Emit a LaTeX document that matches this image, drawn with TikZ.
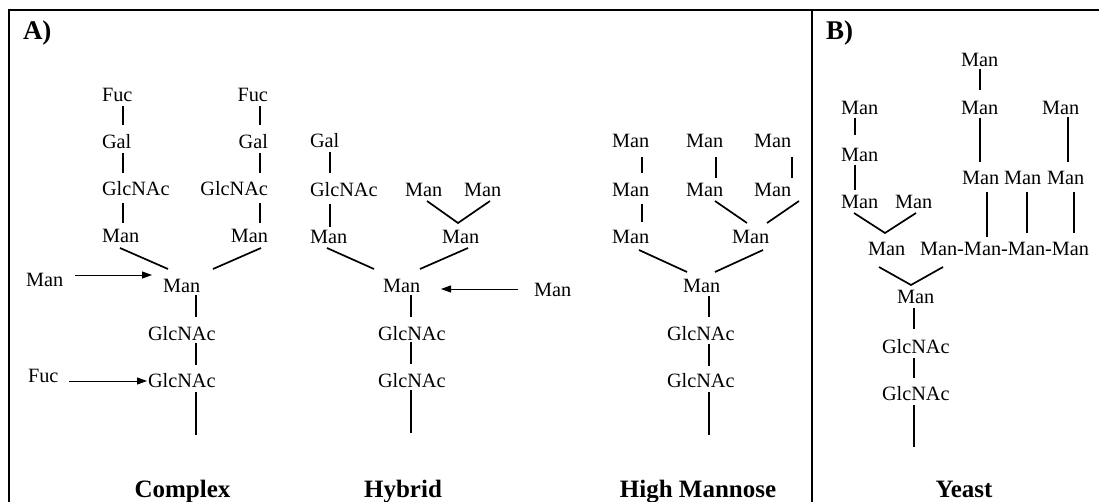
\documentclass[tikz,border=0pt]{standalone}
\usepackage{fontspec}
\setmainfont{Liberation Serif}
\usetikzlibrary{arrows.meta}
\begin{document}
\begin{tikzpicture}[x=1pt,y=-1pt,
  sug/.style={inner sep=0pt,outer sep=0pt,font=\fontsize{20.3}{24}\selectfont,anchor=base west},
  sugr/.style={sug,anchor=base east},
  ttl/.style={inner sep=0pt,outer sep=0pt,font=\fontsize{25}{30}\selectfont\bfseries,anchor=base},
  lbl/.style={inner sep=0pt,outer sep=0pt,font=\fontsize{27}{30}\selectfont\bfseries,anchor=base west},
  bond/.style={line width=1.7pt},
  addn/.style={line width=0.9pt,-{Triangle[length=10pt,width=7pt]}},
  frame/.style={line width=2.8pt,line join=miter},
  sep/.style={line width=1.2pt}]
\useasboundingbox (0,0) rectangle (1099,502);
% frame
\draw[frame] (9,502) -- (9,10) -- (1099,10);
\draw[sep] (812,10) -- (812,502);
\node[lbl] (labA) at (23,40) {A)};
\node[lbl] (labB) at (826,40) {B)};

% ---------------- Complex ----------------
\node[sug]  (cf1) at (102,102) {Fuc};
\node[sugr] (cf2) at (268,102) {Fuc};
\node[sug]  (cg1) at (102,149) {Gal};
\node[sugr] (cg2) at (268,149) {Gal};
\node[sug]  (cn1) at (102,196) {GlcNAc};
\node[sugr] (cn2) at (268,196) {GlcNAc};
\node[sug]  (cm1) at (102,243) {Man};
\node[sugr] (cm2) at (268,243) {Man};
\node[sug]  (cm)  at (163,292) {Man};
\node[sug]  (cgn1) at (148,340) {GlcNAc};
\node[sug]  (cgn2) at (148,387) {GlcNAc};
\node[sug]  (cman) at (26,287) {Man};
\node[sug]  (cfuc) at (28,382) {Fuc};
\node[ttl]  (tC) at (182.5,497) {Complex};
\draw[bond] ([shift={(21,4)}]cf1.base west) -- ([shift={(21,-24)}]cg1.base west);
\draw[bond] ([shift={(21,4)}]cg1.base west) -- ([shift={(21,-23)}]cn1.base west);
\draw[bond] ([shift={(21,7)}]cn1.base west) -- ([shift={(21,-20)}]cm1.base west);
\draw[bond] ([shift={(-8,4)}]cf2.base east) -- ([shift={(-8,-24)}]cg2.base east);
\draw[bond] ([shift={(-8,4)}]cg2.base east) -- ([shift={(-8,-23)}]cn2.base east);
\draw[bond] ([shift={(-8,7)}]cn2.base east) -- ([shift={(-8,-20)}]cm2.base east);
\draw[bond] ([shift={(18,5)}]cm1.base west) -- ([shift={(5,-23)}]cm.base west);
\draw[bond] ([shift={(-7,5)}]cm2.base east) -- ([shift={(50,-23)}]cm.base west);
\draw[bond] ([shift={(33,3)}]cm.base west) -- ([shift={(48,-23)}]cgn1.base west);
\draw[bond] ([shift={(48,3)}]cgn1.base west) -- ([shift={(48,-22)}]cgn2.base west);
\draw[bond] ([shift={(48,5)}]cgn2.base west) -- ([shift={(48,48)}]cgn2.base west);
\draw[addn] ([shift={(49,-12)}]cman.base west) -- ([shift={(-11,-17)}]cm.base west);
\draw[addn] ([shift={(41,-1)}]cfuc.base west) -- ([shift={(-1,-6)}]cgn2.base west);

% ---------------- Hybrid ----------------
\node[sug] (hg)   at (310,148) {Gal};
\node[sug] (hn)   at (310,197) {GlcNAc};
\node[sug] (hm1)  at (310,244) {Man};
\node[sug] (hmt1) at (405,197) {Man};
\node[sug] (hmt2) at (464,197) {Man};
\node[sug] (hm2)  at (442,244) {Man};
\node[sug] (hm)   at (383,292) {Man};
\node[sug] (hgn1) at (378,340) {GlcNAc};
\node[sug] (hgn2) at (378,387) {GlcNAc};
\node[sug] (hl)   at (534,297) {Man};
\node[ttl] (tH) at (403,497) {Hybrid};
\draw[bond] ([shift={(20,4)}]hg.base west) -- ([shift={(20,-24)}]hn.base west);
\draw[bond] ([shift={(20,7)}]hn.base west) -- ([shift={(20,-17)}]hm1.base west);
\draw[bond] ([shift={(22,4)}]hmt1.base west) -- ([shift={(16,-21)}]hm2.base west) -- ([shift={(26,4)}]hmt2.base west);
\draw[bond] ([shift={(17,4)}]hm1.base west) -- ([shift={(-9,-23)}]hm.base west);
\draw[bond] ([shift={(26,4)}]hm2.base west) -- ([shift={(37,-23)}]hm.base west);
\draw[bond] ([shift={(28,3)}]hm.base west) -- ([shift={(33,-23)}]hgn1.base west);
\draw[bond] ([shift={(33,2)}]hgn1.base west) -- ([shift={(33,-23)}]hgn2.base west);
\draw[bond] ([shift={(33,3)}]hgn2.base west) -- ([shift={(33,46)}]hgn2.base west);
\draw[addn] ([shift={(-16,-8)}]hl.base west) -- ([shift={(58,-3)}]hm.base west);

% ---------------- High Mannose ----------------
\node[sug] (a1) at (612,148) {Man};
\node[sug] (a2) at (686,148) {Man};
\node[sug] (a3) at (754,148) {Man};
\node[sug] (b1) at (612,197) {Man};
\node[sug] (b2) at (686,197) {Man};
\node[sug] (b3) at (754,197) {Man};
\node[sug] (r1) at (612,244) {Man};
\node[sug] (r2) at (732,244) {Man};
\node[sug] (mm) at (683,292) {Man};
\node[sug] (mg1) at (667,340) {GlcNAc};
\node[sug] (mg2) at (667,387) {GlcNAc};
\node[ttl] (tM) at (698,497) {High Mannose};
\draw[bond] ([shift={(30,9)}]a1.base west) -- ([shift={(30,-24)}]b1.base west);
\draw[bond] ([shift={(30,7)}]b1.base west) -- ([shift={(30,-22)}]r1.base west);
\draw[bond] ([shift={(30,9)}]a2.base west) -- ([shift={(30,-19)}]b2.base west);
\draw[bond] ([shift={(38,9)}]a3.base west) -- ([shift={(38,-19)}]b3.base west);
\draw[bond] ([shift={(29,4)}]b2.base west) -- ([shift={(15,-21)}]r2.base west);
\draw[bond] ([shift={(45,4)}]b3.base west) -- ([shift={(35,-21)}]r2.base west);
\draw[bond] ([shift={(27,6)}]r1.base west) -- ([shift={(4,-20)}]mm.base west);
\draw[bond] ([shift={(31,6)}]r2.base west) -- ([shift={(32,-20)}]mm.base west);
\draw[bond] ([shift={(26,4)}]mm.base west) -- ([shift={(42,-23)}]mg1.base west);
\draw[bond] ([shift={(42,4)}]mg1.base west) -- ([shift={(42,-21)}]mg2.base west);
\draw[bond] ([shift={(42,5)}]mg2.base west) -- ([shift={(42,48)}]mg2.base west);

% ---------------- Yeast ----------------
\node[sug] (y1) at (841,115) {Man};
\node[sug] (y2) at (841,162) {Man};
\node[sug] (y3) at (841,209) {Man};
\node[sug] (y4) at (895,209) {Man};
\node[sug] (yb) at (868,256) {Man};
\node[sug] (ych) at (920,256) {Man-Man-Man-Man};
\node[sug] (t1) at (961,67) {Man};
\node[sug] (t2) at (961,115) {Man};
\node[sug] (t3) at (1042,115) {Man};
\node[sug] (u1) at (962,185) {Man};
\node[sug] (u2) at (1004,185) {Man};
\node[sug] (u3) at (1047,185) {Man};
\node[sug] (yc) at (897,304) {Man};
\node[sug] (yg1) at (882,353) {GlcNAc};
\node[sug] (yg2) at (882,400) {GlcNAc};
\node[ttl] (tY) at (964,497) {Yeast};
\draw[bond] ([shift={(14,3)}]y1.base west) -- ([shift={(14,-27)}]y2.base west);
\draw[bond] ([shift={(14,3)}]y2.base west) -- ([shift={(14,-19)}]y3.base west);
\draw[bond] ([shift={(13,4)}]y3.base west) -- ([shift={(17,-23)}]yb.base west) -- ([shift={(21,4)}]y4.base west);
\draw[bond] ([shift={(19,2)}]t1.base west) -- ([shift={(19,-25)}]t2.base west);
\draw[bond] ([shift={(19,3)}]t2.base west) -- ([shift={(18,-23)}]u1.base west);
\draw[bond] ([shift={(26,2)}]t3.base west) -- ([shift={(21,-23)}]u3.base west);
\draw[bond] ([shift={(25,7)}]u1.base west) -- ([shift={(67,-19)}]ych.base west);
\draw[bond] ([shift={(23,7)}]u2.base west) -- ([shift={(107,-23)}]ych.base west);
\draw[bond] ([shift={(27,7)}]u3.base west) -- ([shift={(154,-23)}]ych.base west);
\draw[bond] ([shift={(11,11)}]yb.base west) -- ([shift={(14,-19)}]yc.base west) -- ([shift={(23,11)}]ych.base west);
\draw[bond] ([shift={(17,4)}]yc.base west) -- ([shift={(32,-24)}]yg1.base west);
\draw[bond] ([shift={(32,5)}]yg1.base west) -- ([shift={(32,-22)}]yg2.base west);
\draw[bond] ([shift={(32,5)}]yg2.base west) -- ([shift={(32,47)}]yg2.base west);
\end{tikzpicture}
\end{document}
